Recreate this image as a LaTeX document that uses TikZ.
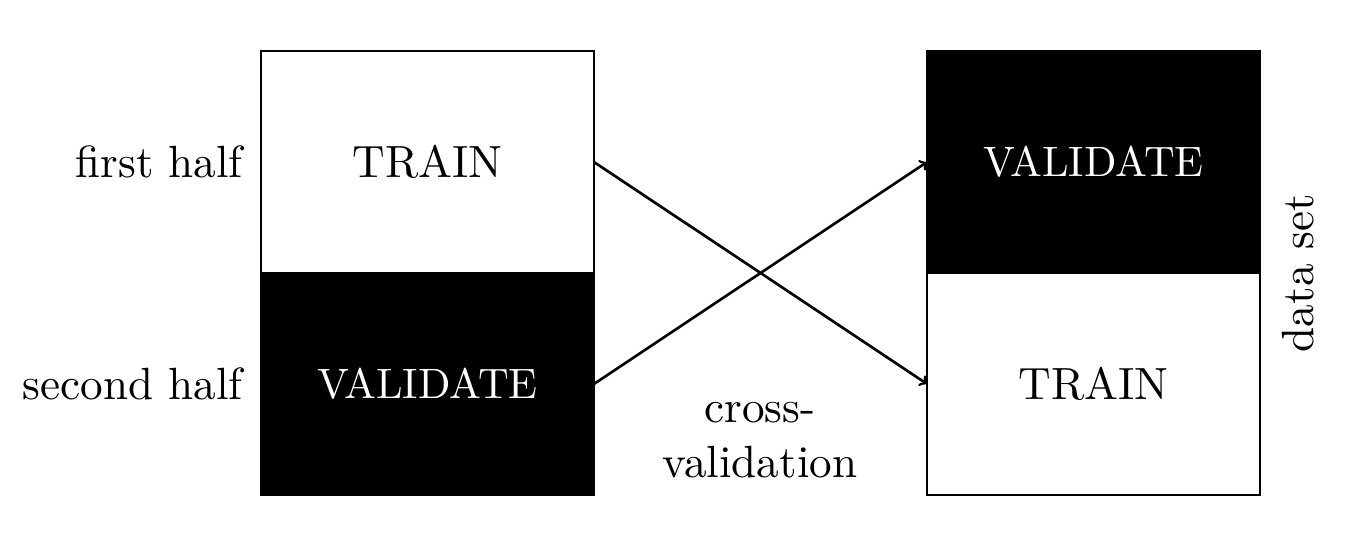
\documentclass[tikz,border=0pt]{standalone}
\usepackage{fontspec}
\setmainfont{lmroman10}[Extension=.otf,UprightFont=*-regular,BoldFont=*-bold,ItalicFont=*-italic]
\usetikzlibrary{positioning}
\begin{document}
\begin{tikzpicture}[x=0.02cm,y=-0.02cm,
  font=\fontsize{25.7}{31.5}\selectfont,
  half/.style={minimum width=6.66cm,minimum height=4.44cm,inner sep=0pt,outer sep=0pt,line width=0.75pt},
  whitehalf/.style={half,draw=black,fill=white,text=black},
  blackhalf/.style={half,draw=black,fill=black,text=white,font=\fontsize{24.2}{29}\selectfont},
  arr/.style={->,line width=1.5pt}]
\useasboundingbox (0,0) rectangle (1356,536);
\node[whitehalf] (lt) at (427.5,162) {TRAIN};
\node[blackhalf] (lb) at (427.5,384) {VALIDATE};
\node[blackhalf] (rt) at (1093.5,162) {VALIDATE};
\node[whitehalf] (rb) at (1093.5,384) {TRAIN};
\node[anchor=east,inner sep=0pt] (fh) at ([xshift=-0.36cm]lt.west) {first half};
\node[anchor=east,inner sep=0pt] (sh) at ([xshift=-0.36cm]lb.west) {second half};
\node[rotate=90,anchor=north,inner sep=0pt] (ds) at (1282,273) {data set};
\node[align=center,inner sep=0pt] (cv) at (760,440) {cross-\\validation};
\draw[arr] (lt.east) -- (rb.west);
\draw[arr] (lb.east) -- (rt.west);
\end{tikzpicture}
\end{document}
